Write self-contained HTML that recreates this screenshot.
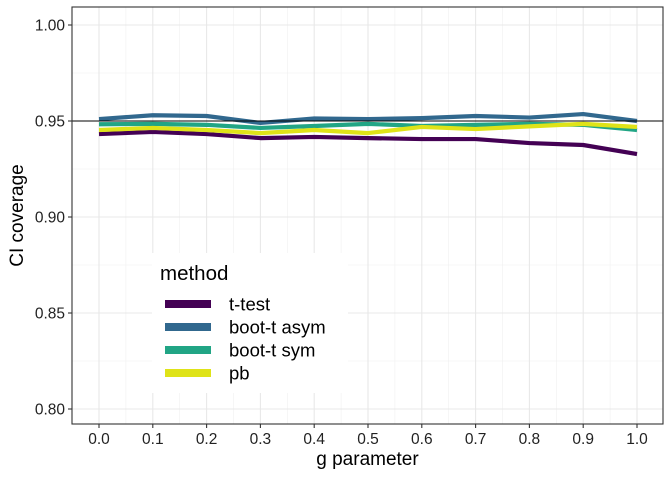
<!DOCTYPE html>
<html><head><meta charset="utf-8"><style>
body{margin:0;background:#fff;}
svg{display:block;font-family:"Liberation Sans",Arial,sans-serif;}
</style></head><body>
<svg id="chart" width="672" height="480"></svg>
<script>
const gValues=[0,0.1,0.2,0.3,0.4,0.5,0.6,0.7,0.8,0.9,1.0];
const tTest=[0.9432,0.9443,0.9432,0.9411,0.9417,0.9411,0.9406,0.9406,0.9385,0.9375,0.9328];
const bootAsym=[0.9510,0.9530,0.9526,0.9490,0.9513,0.9510,0.9515,0.9526,0.9518,0.9536,0.9500];
const bootSym=[0.9483,0.9485,0.9480,0.9464,0.9474,0.9485,0.9474,0.9480,0.9485,0.9480,0.9453];
const pb=[0.9453,0.9464,0.9453,0.9437,0.9453,0.9437,0.9469,0.9458,0.9472,0.9485,0.9469];
const yTicks=[0.80,0.85,0.90,0.95,1.00];
const xTicks=[0,0.1,0.2,0.3,0.4,0.5,0.6,0.7,0.8,0.9,1.0];
const seriesNames=["t-test","boot-t asym","boot-t sym","pb"];
const seriesColors=["#440154","#31688e","#21a585","#dfe318"];
const seriesData=[tTest,bootAsym,bootSym,pb];

const NS="http://www.w3.org/2000/svg";
const svg=document.getElementById('chart');
const L=72,R=663,T=7,B=424;
const x=v=>99+(637-99)*v;
const y=v=>121-(v-0.95)/0.05*96;
function el(tag,attrs,parent){const e=document.createElementNS(NS,tag);for(const k in attrs)e.setAttribute(k,attrs[k]);(parent||svg).appendChild(e);return e;}

const grid=el('g',{});


for(let i=0;i<yTicks.length-1;i++){const m=(yTicks[i]+yTicks[i+1])/2;el('line',{x1:L,x2:R,y1:y(m),y2:y(m),stroke:'#f0f0f0','stroke-width':0.6},grid);}
for(let i=0;i<xTicks.length-1;i++){const m=(xTicks[i]+xTicks[i+1])/2;el('line',{y1:T,y2:B,x1:x(m),x2:x(m),stroke:'#f0f0f0','stroke-width':0.6},grid);}
yTicks.forEach(v=>el('line',{x1:L,x2:R,y1:y(v),y2:y(v),stroke:'#e8e8e8','stroke-width':1.1},grid));
xTicks.forEach(v=>el('line',{y1:T,y2:B,x1:x(v),x2:x(v),stroke:'#e8e8e8','stroke-width':1.1},grid));

seriesData.forEach((d,i)=>{
  const p=el('polyline',{points:d.map((v,j)=>x(gValues[j])+','+y(v)).join(' '),fill:'none',stroke:seriesColors[i],'stroke-width':4.2,'stroke-linejoin':'round'});
  
  
});
const ref=el('line',{x1:L,x2:R,y1:y(0.95),y2:y(0.95),stroke:'#000','stroke-width':1.1});



const border=el('rect',{x:L,y:T,width:R-L,height:B-T,fill:'none',stroke:'#333','stroke-width':1.1});



yTicks.forEach(v=>{
  el('line',{x1:L-4,x2:L,y1:y(v),y2:y(v),stroke:'#333','stroke-width':1.1});
  const t=el('text',{x:L-7,y:y(v)+5.5,'text-anchor':'end','font-size':15.5,fill:'#222'});
  t.textContent=v.toFixed(2);
  
  
});
xTicks.forEach(v=>{
  el('line',{y1:B,y2:B+4,x1:x(v),x2:x(v),stroke:'#333','stroke-width':1.1});
  const t=el('text',{x:x(v),y:B+20,'text-anchor':'middle','font-size':15.5,fill:'#222'});
  t.textContent=v.toFixed(1);
  
  
});
const xt=el('text',{x:(L+R)/2,y:465,'text-anchor':'middle','font-size':19,fill:'#000'});
xt.textContent='g parameter';


const yt=el('text',{x:0,y:0,'text-anchor':'middle','font-size':19,fill:'#000',transform:`translate(23,${(T+B)/2}) rotate(-90)`});
yt.textContent='CI coverage';



const lg=el('g',{});


el('rect',{x:152,y:253,width:196,height:140,fill:'#fff'},lg);
const lt=el('text',{x:160,y:280,'font-size':20.5,fill:'#000'},lg);
lt.textContent='method';


seriesNames.forEach((n,i)=>{
  const cy=304+i*23;
  const sw=el('rect',{x:165,y:cy-4,width:46,height:8,fill:seriesColors[i]},lg);
  
  
  const t=el('text',{x:229,y:cy+6.5,'font-size':18.5,fill:'#000'},lg);
  t.textContent=n;
  
  
});
</script>
</body></html>
